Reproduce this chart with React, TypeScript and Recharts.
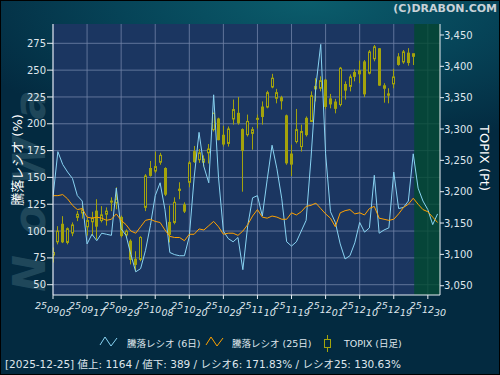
import React from "react";
import { ComposedChart, XAxis, YAxis, CartesianGrid, Line, Bar, ReferenceArea } from "recharts";

const dates = [
  "25/09/05", "25/09/08", "25/09/09", "25/09/10", "25/09/11", "25/09/12", "25/09/16", "25/09/17", "25/09/18", "25/09/19",
  "25/09/22", "25/09/24", "25/09/25", "25/09/26", "25/09/29", "25/09/30", "25/10/01", "25/10/02", "25/10/03", "25/10/06",
  "25/10/07", "25/10/08", "25/10/09", "25/10/10", "25/10/14", "25/10/15", "25/10/16", "25/10/17", "25/10/20", "25/10/21",
  "25/10/22", "25/10/23", "25/10/24", "25/10/27", "25/10/28", "25/10/29", "25/10/30", "25/10/31", "25/11/04", "25/11/05",
  "25/11/06", "25/11/07", "25/11/10", "25/11/11", "25/11/12", "25/11/13", "25/11/14", "25/11/17", "25/11/18", "25/11/19",
  "25/11/20", "25/11/21", "25/11/25", "25/11/26", "25/11/27", "25/11/28", "25/12/01", "25/12/02", "25/12/03", "25/12/04",
  "25/12/05", "25/12/08", "25/12/09", "25/12/10", "25/12/11", "25/12/12", "25/12/15", "25/12/16", "25/12/17", "25/12/18",
  "25/12/19", "25/12/22", "25/12/23", "25/12/24", "25/12/25", "25/12/26", "25/12/29", "25/12/30", "26/01/05", "26/01/06",
];

// 騰落レシオ (6日)
const ratio6 = [
  132, 174, 162, 155, 149, 133, 128, 88, 97, 91,
  98, 97, 96, 140, 102, 96, 78, 62, 65, 82,
  105, 133, 145, 120, 80, 78, 77, 77, 95, 150,
  192, 160, 145, 227, 150, 100, 93, 90, 94, 64,
  105, 131, 133, 114, 148, 180, 158, 130, 90, 86,
  90, 100, 110, 168, 235, 274, 172, 118, 108, 88,
  74, 77, 89, 108, 99, 103, 152, 98, 101, 103,
  155, 121, 122, 128, 172, 140, 128, 120, 106, 116,
];

// 騰落レシオ (25日)
const ratio25 = [
  133, 133, 134, 130, 124, 120, 121, 113, 112, 113,
  112, 110, 111, 116, 110, 106, 100, 98, 104, 110,
  111, 109, 108, 101, 95, 94, 94, 91, 97, 97,
  102, 101, 105, 109, 104, 97, 98, 98, 96, 100,
  106, 114, 120, 113, 112, 114, 113, 111, 111, 117,
  115, 118, 123, 124, 126, 121, 116, 112, 104, 117,
  119, 120, 116, 117, 115, 121, 123, 112, 111, 110,
  111, 116, 122, 125, 130.6, 125, 120, 118, 113, 108,
];

// TOPIX (日足)
const open = [
  3099, 3120, 3148, 3119, 3134, 3159, 3166, 3144, 3152, 3169,
  3154, 3164, 3184, 3182, 3159, 3131, 3121, 3092, 3092, 3175,
  3237, 3233, 3247, 3237, 3151, 3151, 3204, 3179, 3215, 3264,
  3251, 3247, 3262, 3299, 3316, 3290, 3277, 3316, 3325, 3299,
  3291, 3293, 3316, 3335, 3335, 3367, 3349, 3350, 3321, 3260,
  3280, 3272, 3317, 3312, 3368, 3365, 3378, 3348, 3343, 3339,
  3371, 3368, 3390, 3393, 3407, 3389, 3412, 3428, 3365, 3356,
  3372, 3415, 3407, 3421, 3420,
];
const high = [
  3111, 3145, 3161, 3143, 3151, 3169, 3178, 3159, 3168, 3188,
  3177, 3175, 3191, 3207, 3162, 3140, 3124, 3105, 3129, 3228,
  3249, 3264, 3262, 3239, 3178, 3191, 3215, 3183, 3249, 3273,
  3268, 3258, 3276, 3326, 3318, 3305, 3304, 3347, 3351, 3301,
  3323, 3303, 3323, 3344, 3361, 3388, 3364, 3353, 3323, 3275,
  3332, 3307, 3320, 3360, 3381, 3384, 3380, 3356, 3348, 3399,
  3376, 3387, 3395, 3409, 3410, 3426, 3434, 3429, 3373, 3365,
  3396, 3421, 3426, 3429, 3420,
];
const low = [
  3087, 3116, 3118, 3116, 3129, 3153, 3157, 3130, 3130, 3124,
  3151, 3146, 3169, 3172, 3127, 3127, 3084, 3073, 3089, 3169,
  3224, 3230, 3243, 3193, 3119, 3148, 3188, 3166, 3207, 3246,
  3246, 3240, 3245, 3296, 3282, 3272, 3272, 3307, 3307, 3200,
  3288, 3267, 3301, 3307, 3333, 3365, 3341, 3331, 3243, 3225,
  3277, 3264, 3288, 3311, 3344, 3360, 3332, 3333, 3325, 3336,
  3347, 3360, 3376, 3373, 3351, 3387, 3408, 3369, 3342, 3341,
  3365, 3401, 3404, 3401, 3402,
];
const close = [
  3103, 3137, 3120, 3141, 3147, 3164, 3171, 3154, 3158, 3145,
  3163, 3169, 3185, 3188, 3130, 3137, 3092, 3084, 3127, 3225,
  3226, 3240, 3258, 3196, 3132, 3183, 3202, 3169, 3246, 3248,
  3262, 3252, 3268, 3325, 3283, 3276, 3300, 3331, 3310, 3266,
  3312, 3299, 3317, 3320, 3358, 3381, 3358, 3345, 3246, 3244,
  3299, 3296, 3291, 3353, 3364, 3377, 3336, 3340, 3333, 3397,
  3362, 3383, 3384, 3388, 3356, 3423, 3431, 3370, 3369, 3354,
  3383, 3403, 3423, 3406, 3416,
];

const ratioTicks = [50, 75, 100, 125, 150, 175, 200, 225, 250, 275];
const topixTicks = [3050, 3100, 3150, 3200, 3250, 3300, 3350, 3400, 3450];
const dateTicks = [0, 7, 14, 21, 28, 35, 42, 49, 56, 63, 70, 77];

const data = dates.map((d, i) => ({
  i,
  date: d,
  r6: ratio6[i],
  r25: ratio25[i],
  open: open[i] ?? null,
  high: high[i] ?? null,
  low: low[i] ?? null,
  close: close[i] ?? null,
}));

const PLOT_BG = "#1b3661";
const OLIVE = "#a3a30c";
const TEXT = "#dfe6ec";
const FONT = "'DejaVu Sans', 'Noto Sans CJK JP', sans-serif";

const Candle = (props: any) => {
  const { x, y, width, height, payload } = props;
  if (payload == null || payload.high == null) return null;
  const top = Math.min(y, y + height);
  const h = Math.abs(height);
  const k = h / (payload.high - payload.low || 1);
  const py = (v: number) => top + (payload.high - v) * k;
  const cx = Math.round(x + width / 2) + 0.5;
  const up = payload.close >= payload.open;
  const bTop = py(Math.max(payload.open, payload.close));
  const bBot = py(Math.min(payload.open, payload.close));
  return (
    <g>
      <line x1={cx} x2={cx} y1={top} y2={top + h} stroke={OLIVE} strokeWidth={1} />
      <rect
        x={cx - 1}
        y={bTop}
        width={2}
        height={Math.max(bBot - bTop, 1)}
        fill={up ? PLOT_BG : OLIVE}
        stroke={OLIVE}
        strokeWidth={1}
      />
    </g>
  );
};

const DateTick = (props: any) => {
  const { x, y, payload } = props;
  const parts = String(dates[payload.value] ?? "").split("/");
  return (
    <g transform={`translate(${x},${y})`}>
      <text x={-18} y={8} fill={TEXT} fontSize={9.5} fontStyle="italic" fontFamily={FONT}>
        <tspan>{parts[0]}</tspan>
        <tspan dy={3.5}>{parts[1]}</tspan>
        <tspan dy={3.5}>{parts[2]}</tspan>
      </text>
    </g>
  );
};

export default function App() {
  return (
    <div
      style={{
        position: "absolute",
        left: 0,
        top: 0,
        width: 500,
        height: 375,
        boxSizing: "border-box",
        border: "1px solid #000",
        background: "radial-gradient(ellipse 75% 40% at 62% 0%, #0b5d6c 0%, #064458 50%, #032a40 100%)",
        fontFamily: FONT,
        overflow: "hidden",
      }}
    >
      <svg width={500} height={375} style={{ position: "absolute", left: -1, top: -1 }}>
        <text
          transform="translate(45,292) rotate(-90)"
          fontSize={44}
          fontWeight="bold"
          fontStyle="italic"
          letterSpacing={20}
          fill="#5f8a98"
          opacity={0.3}
          fontFamily={FONT}
        >
          NoWa
        </text>
        <text x={497} y={12} textAnchor="end" fontSize={11} fontWeight="bold" fill="#c9d2d8" fontFamily={FONT}>
          (C)DRABON.COM
        </text>
        <text transform="translate(22,160) rotate(-90)" textAnchor="middle" fontSize={13} fill="#ffffff" fontFamily={FONT}>
          騰落レシオ (%)
        </text>
        <text transform="translate(480,158) rotate(90)" textAnchor="middle" fontSize={13} fill="#ffffff" fontFamily={FONT}>
          TOPIX (Pt)
        </text>
      </svg>
      <div style={{ position: "absolute", left: -1, top: -1 }}>
        <ComposedChart width={500} height={375} data={data} margin={{ top: 24, right: 0, bottom: 0, left: 0 }}>
          <CartesianGrid
            yAxisId="left"
            fill={PLOT_BG}
            stroke="#7083a8"
            strokeOpacity={0.8}
            horizontalValues={ratioTicks}
            verticalValues={dateTicks}
          />
          <ReferenceArea yAxisId="left" x1={74.2} x2={79.5} fill="#014a30" fillOpacity={0.8} stroke="none" />
          <XAxis
            dataKey="i"
            type="number"
            domain={[0, 79.5]}
            allowDataOverflow
            ticks={dateTicks}
            interval={0}
            height={80}
            stroke="#e8eef4"
            tickSize={4}
            tick={<DateTick />}
          />
          <YAxis
            yAxisId="left"
            domain={[40.4, 293]}
            allowDataOverflow
            ticks={ratioTicks}
            interval={0}
            width={53}
            stroke="#e8eef4"
            tickSize={6}
            tickMargin={1}
            tick={{ fill: TEXT, fontSize: 10, fontFamily: FONT }}
          />
          <YAxis
            yAxisId="right"
            orientation="right"
            domain={[3035.2, 3467.5]}
            allowDataOverflow
            ticks={topixTicks}
            interval={0}
            width={60}
            stroke="#e8eef4"
            tickSize={4}
            tickMargin={0}
            tickFormatter={(v: number) => v.toLocaleString("en-US")}
            tick={{ fill: TEXT, fontSize: 10, fontFamily: FONT }}
          />
          <Bar
            yAxisId="right"
            dataKey={(d: any) => (d.high == null ? null : [d.low, d.high])}
            barSize={4}
            shape={<Candle />}
            isAnimationActive={false}
          />
          <Line yAxisId="left" type="linear" dataKey="r6" stroke="#88d3f2" strokeWidth={1} dot={false} isAnimationActive={false} />
          <Line yAxisId="left" type="linear" dataKey="r25" stroke="#ffa200" strokeWidth={1} dot={false} isAnimationActive={false} />
        </ComposedChart>
      </div>
      <svg width={500} height={375} style={{ position: "absolute", left: -1, top: -1 }}>
        <polyline points="100,345 105,337 111,346 117,338" fill="none" stroke="#88d3f2" strokeWidth={1} />
        <text x={127} y={347} fontSize={9.5} fill={TEXT} fontFamily={FONT}>騰落レシオ (6日)</text>
        <polyline points="206,345 211,337 217,346 223,338" fill="none" stroke="#ffa200" strokeWidth={1} />
        <text x={232} y={347} fontSize={9.5} fill={TEXT} fontFamily={FONT}>騰落レシオ (25日)</text>
        <line x1={327.5} x2={327.5} y1={335} y2={352} stroke={OLIVE} />
        <rect x={324.5} y={339.5} width={6} height={8} fill="#032a40" stroke={OLIVE} />
        <text x={344} y={347} fontSize={9.5} fill={TEXT} fontFamily={FONT}>TOPIX (日足)</text>
        <text x={5} y={368} fontSize={10.5} fill={TEXT} fontFamily={FONT}>
          [2025-12-25]  値上: 1164 / 値下: 389 / レシオ6: 171.83% / レシオ25: 130.63%
        </text>
      </svg>
    </div>
  );
}
